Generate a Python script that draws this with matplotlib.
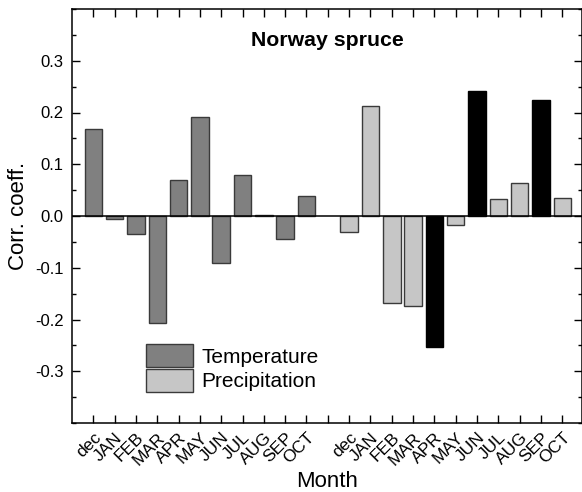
import matplotlib
matplotlib.use("Agg")
import matplotlib.pyplot as plt
from matplotlib.patches import Patch
from matplotlib.ticker import MultipleLocator
import numpy as np

plt.rcParams['font.family'] = ['Liberation Sans', 'DejaVu Sans']

months = ["dec", "JAN", "FEB", "MAR", "APR", "MAY", "JUN", "JUL", "AUG", "SEP", "OCT"]
temperature = [0.169, -0.005, -0.035, -0.206, 0.069, 0.191, -0.090, 0.080, 0.001, -0.045, 0.038]
precipitation = [-0.030, 0.212, -0.168, -0.174, -0.253, -0.018, 0.242, 0.032, 0.064, 0.224, 0.034]
# significant months of precipitation are drawn black
precip_signif = [False, False, False, False, True, False, True, False, False, True, False]

fig = plt.figure(figsize=(5.82, 4.92), dpi=100)
ax = fig.add_axes([72 / 582, 1 - 423 / 492, (581.5 - 72) / 582, (423 - 9) / 492])

n = len(months)
x_temp = np.arange(1, n + 1)
x_prec = np.arange(n + 2, 2 * n + 2)

ax.bar(x_temp, temperature, width=0.82, color="#808080", edgecolor="#3a3a3a", linewidth=1.0)
prec_colors = ["black" if s else "#c6c6c6" for s in precip_signif]
prec_edges = ["black" if s else "#3a3a3a" for s in precip_signif]
ax.bar(x_prec, precipitation, width=0.82, color=prec_colors, edgecolor=prec_edges, linewidth=1.0)

ax.axhline(0, color="black", linewidth=1.1)

ax.set_xlim(0, 23.9)
ax.set_ylim(-0.4, 0.4)
ax.set_yticks([-0.3, -0.2, -0.1, 0.0, 0.1, 0.2, 0.3])
ax.set_yticklabels(["-0.3", "-0.2", "-0.1", "0.0", "0.1", "0.2", "0.3"])
ax.yaxis.set_minor_locator(MultipleLocator(0.05))

ticks = list(x_temp) + [n + 1] + list(x_prec)
labels = months + [""] + months
ax.set_xticks(ticks)
ax.set_xticklabels(labels, rotation=45, ha="right", va="top", rotation_mode="anchor", fontsize=12.5)

ax.tick_params(axis="both", which="major", direction="in", top=True, right=True,
               length=6, width=1.0)
ax.tick_params(axis="y", which="major", labelsize=12, pad=6)
ax.tick_params(axis="x", which="major", pad=5)
ax.tick_params(axis="y", which="minor", direction="in", right=True, length=3, width=1.0)
for s in ax.spines.values():
    s.set_linewidth(1.1)

ax.set_ylabel("Corr. coeff.", fontsize=16, labelpad=4)
ax.set_xlabel("Month", fontsize=16, labelpad=2)

ax.text(0.502, 0.925, "Norway spruce", transform=ax.transAxes, ha="center", va="center",
        fontsize=15.3, fontweight="bold")

handles = [Patch(facecolor="#808080", edgecolor="#3a3a3a", linewidth=1.0),
           Patch(facecolor="#c6c6c6", edgecolor="#3a3a3a", linewidth=1.0)]
ax.legend(handles, ["Temperature", "Precipitation"], loc="upper left",
          bbox_to_anchor=(0.145, 0.19), frameon=False, fontsize=15,
          handlelength=2.25, handleheight=1.3, handletextpad=0.4,
          labelspacing=0.1, borderpad=0, borderaxespad=0)

fig.savefig("out.png", dpi=100)
